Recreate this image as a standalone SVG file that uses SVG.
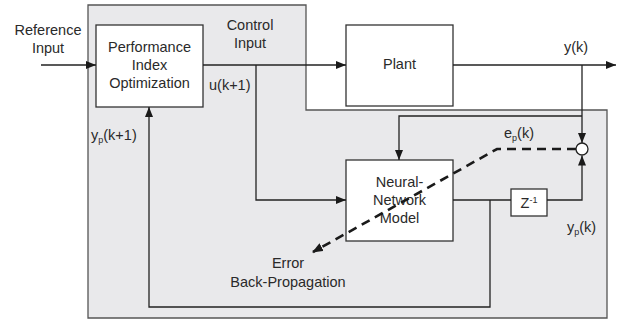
<svg xmlns="http://www.w3.org/2000/svg" width="617" height="322" viewBox="0 0 617 322">
<defs>
<marker id="ah" viewBox="0 0 10 8" refX="10" refY="4" markerWidth="10" markerHeight="8" markerUnits="userSpaceOnUse" orient="auto">
<path d="M0,0 L10,4 L0,8 Z" fill="#1a1a1a"/>
</marker>
<marker id="ahd" viewBox="0 0 10 8" refX="9" refY="4" markerWidth="11" markerHeight="9" markerUnits="userSpaceOnUse" orient="auto">
<path d="M0,0 L10,4 L0,8 Z" fill="#1a1a1a"/>
</marker>
<style>
text{font-family:"Liberation Sans",Arial,sans-serif;font-size:14.5px;fill:#2a2a2a}
.c{text-anchor:middle}
.box{fill:#fff;stroke:#333;stroke-width:1.3}
.ln{fill:none;stroke:#222;stroke-width:1.3}
.dash{fill:none;stroke:#1a1a1a;stroke-width:2.6;stroke-dasharray:9,6}
</style>
</defs>
<rect width="617" height="322" fill="#fff"/>
<polygon id="region" points="88,5 306,5 306,110 607,110 607,318 88,318" fill="#e9e9eb" stroke="#555" stroke-width="1.3"/>

<g id="pio">
<rect class="box" x="96" y="25" width="107" height="82"/>
<text class="c" x="149.5" y="52">Performance</text>
<text class="c" x="149.5" y="70">Index</text>
<text class="c" x="149.5" y="88">Optimization</text>
</g>

<g id="plant">
<rect class="box" x="346" y="25" width="107" height="81"/>
<text class="c" x="399.5" y="69">Plant</text>
</g>

<g id="nn">
<rect class="box" x="346" y="160" width="107" height="81"/>
<text class="c" x="399.5" y="187">Neural-</text>
<text class="c" x="399.5" y="205">Network</text>
<text class="c" x="399.5" y="223">Model</text>
</g>

<g id="delay">
<rect class="box" x="511" y="189" width="36" height="27"/>
<text class="c" x="529" y="208">Z<tspan dy="-5" font-size="9">-1</tspan></text>
</g>

<g id="sum">
<circle cx="582" cy="149" r="6" fill="#fff" stroke="#222" stroke-width="1.3"/>
</g>

<g id="connectors">
<path class="ln" d="M41,65 H96" marker-end="url(#ah)"/>
<path class="ln" d="M203,65 H346" marker-end="url(#ah)"/>
<path class="ln" d="M453,65 H616" marker-end="url(#ah)"/>
<path class="ln" d="M256,65 V200 H346" marker-end="url(#ah)"/>
<path class="ln" d="M582,65 V143" marker-end="url(#ah)"/>
<path class="ln" d="M582,116 H399 V160" marker-end="url(#ah)"/>
<path class="ln" d="M453,200 H511"/>
<path class="ln" d="M547,200 H582 V155.5" marker-end="url(#ah)"/>
<path class="ln" d="M490,200 V307 H149 V107" marker-end="url(#ah)"/>
<path class="dash" d="M576,149 H497 L313,252" marker-end="url(#ahd)"/>
</g>

<g id="labels">
<text class="c" x="48" y="35">Reference</text>
<text class="c" x="48" y="53">Input</text>
<text class="c" x="250" y="30">Control</text>
<text class="c" x="250" y="48">Input</text>
<text x="209" y="90">u(k+1)</text>
<text x="91" y="140">y<tspan dy="3" font-size="9">p</tspan><tspan dy="-3">(k+1)</tspan></text>
<text x="564" y="52">y(k)</text>
<text x="504" y="138">e<tspan dy="3" font-size="9">p</tspan><tspan dy="-3">(k)</tspan></text>
<text x="567" y="232">y<tspan dy="3" font-size="9">p</tspan><tspan dy="-3">(k)</tspan></text>
<text class="c" x="288" y="268">Error</text>
<text class="c" x="288" y="287">Back-Propagation</text>
</g>
</svg>
